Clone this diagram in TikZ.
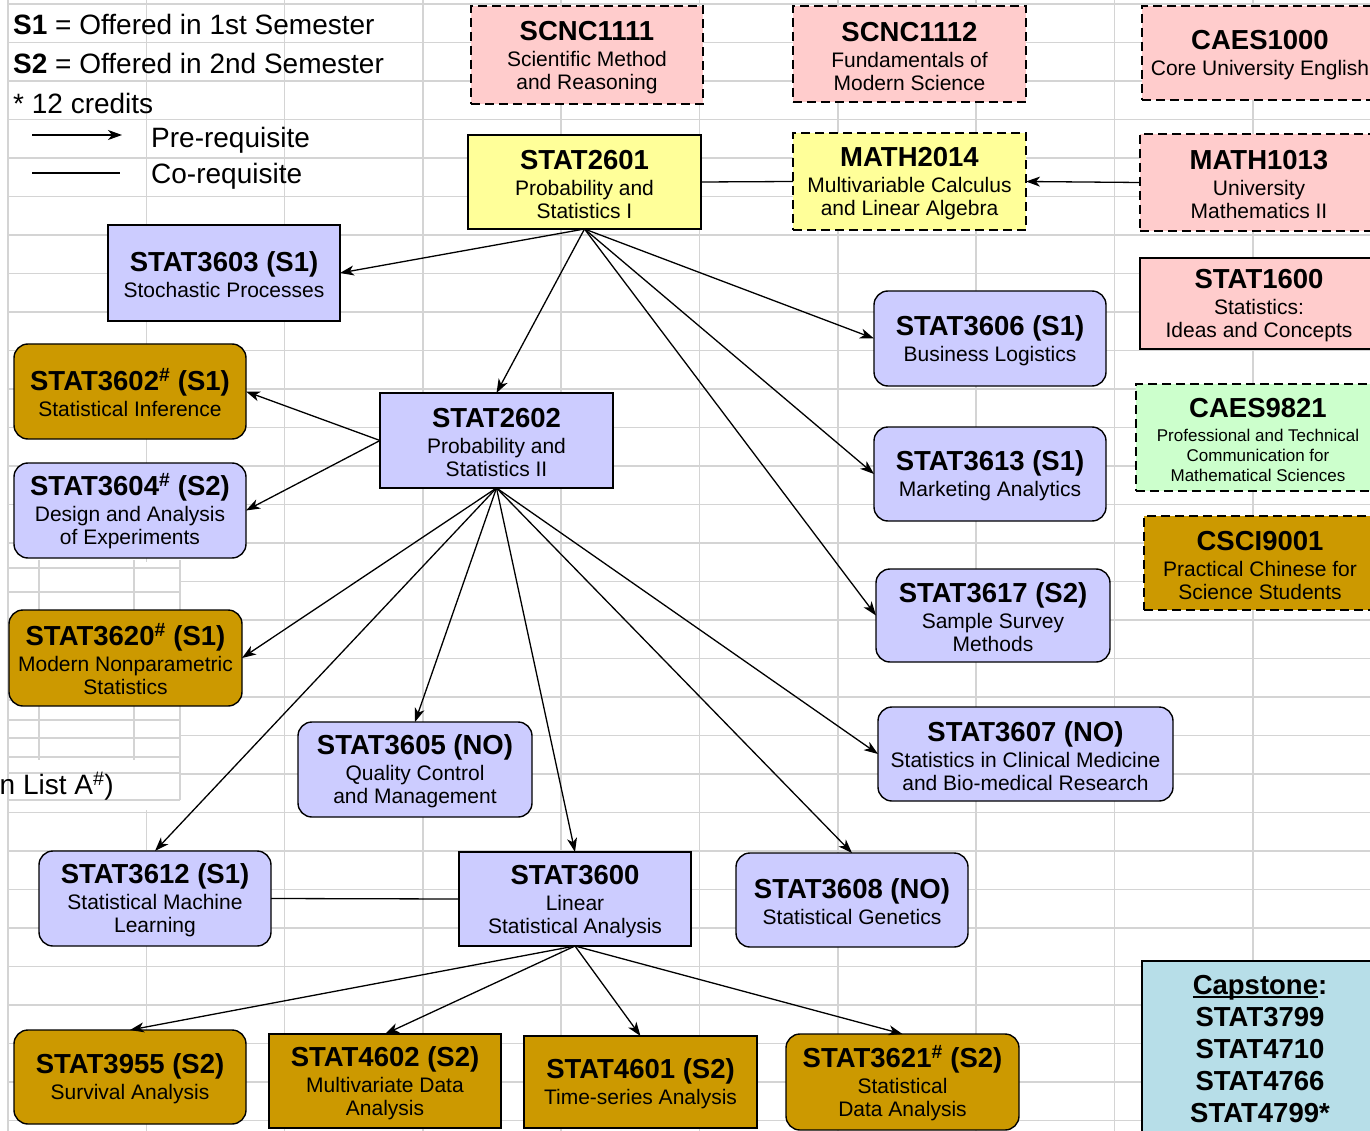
\documentclass[tikz,border=0pt]{standalone}
\usepackage{fontspec}
\setmainfont{Liberation Sans}
\usetikzlibrary{arrows.meta}
\definecolor{pinkc}{HTML}{FFCCCC}
\definecolor{yellowc}{HTML}{FFFF99}
\definecolor{lavc}{HTML}{CCCCFF}
\definecolor{goldc}{HTML}{CC9900}
\definecolor{greenc}{HTML}{CCFFCC}
\definecolor{bluec}{HTML}{B7DEE8}
\definecolor{gridc}{HTML}{D4D4D4}
\newcommand{\ttlf}{\fontsize{27.5}{30}\selectfont\bfseries\rule{0pt}{24pt}}
\newcommand{\myul}[1]{\setbox0\hbox{#1}\rlap{\rule[-3.5pt]{\wd0}{1.6pt}}\box0}
\newcommand{\course}[7]{\node[#1, minimum width={(#5-#3)*1pt}, minimum height={(#6-#4)*1pt}] (#2) at ({(#3+#5)/2},{(#4+#6)/2}) {#7};}
\tikzset{
  course/.style={draw=black, line width=1.4pt, inner sep=0pt, outer sep=0pt, align=center, font=\fontsize{21}{23}\selectfont},
  sq/.style={course},
  rnd/.style={course, rounded corners=14pt},
  dsh/.style={course, dash pattern=on 9pt off 5pt},
  pre/.style={-{Stealth[length=14pt,width=10pt,inset=4pt]}, line width=1.3pt},
  co/.style={line width=1.3pt},
  legtext/.style={font=\fontsize{28}{30}\selectfont, inner sep=0pt, anchor=west},
  gridline/.style={draw=gridc, line width=1.6pt}
}
\begin{document}
\begin{tikzpicture}[x=1pt,y=-1pt]
\clip (0,0) rectangle (1370,1131);
\fill[white] (0,0) rectangle (1370,1131);
% spreadsheet grid
\foreach \gx in {8,146.3,284.6,422.9,561.2,699.5,837.8,976.1,1114.4,1252.7}
  \draw[gridline] (\gx,0) -- (\gx,1131);
\foreach \gy in {4,42.5,81,119.5,158,196.5,235,273.5,312,350.5,389,427.5,466,504.5,543,581.5,620,658.5,697,735.5,774,812.5,851,889.5,928,966.5,1005,1043.5,1082,1120.5}
  \draw[gridline] (8,\gy) -- (1370,\gy);
% small table on the left
\fill[white] (9,562) rectangle (179,810);
\draw[gridline] (180,560) -- (180,800);
\draw[gridline] (39,560) -- (39,760);
\draw[gridline] (134,560) -- (134,760);
\foreach \gy in {568,592,630,665,700,720,738,757,773,800}
  \draw[gridline] (8,\gy) -- (180,\gy);
\draw[gridline] (8,560) -- (8,1131);

% legend
\node[legtext] (leg1) at (13,24) {\textbf{S1} = Offered in 1st Semester};
\node[legtext] (leg2) at (13,63) {\textbf{S2} = Offered in 2nd Semester};
\node[legtext] (leg3) at (13,103) {* 12 credits};
\coordinate (pa) at (32,135);
\coordinate (pb) at (122,135);
\draw[pre] (pa) -- (pb);
\node[legtext] (legpre) at (151,140) {Pre-requisite};
\coordinate (ca) at (32,173);
\coordinate (cb) at (120,173);
\draw[co] (ca) -- (cb);
\node[legtext] (legco) at (151,176) {Co-requisite};
\node[legtext, anchor=east] (lista) at (114,786) {n List A\textsuperscript{\#})};

% right column
\course{dsh, fill=pinkc}{scnc1111}{471}{6}{703}{104}{{\ttlf SCNC1111}\\[3pt]Scientific Method\\and Reasoning}
\course{dsh, fill=pinkc}{scnc1112}{793}{6}{1026}{102}{{\ttlf SCNC1112}\\[3pt]Fundamentals of\\Modern Science}
\course{dsh, fill=pinkc}{caes1000}{1142}{6}{1378}{100}{{\ttlf CAES1000}\\[3pt]Core University English}
\course{sq, fill=yellowc}{stat2601}{468}{135}{701}{229}{{\ttlf STAT2601}\\[3pt]Probability and\\Statistics I}
\course{dsh, fill=yellowc}{math2014}{793}{133}{1026}{230}{{\ttlf MATH2014}\\[3pt]Multivariable Calculus\\and Linear Algebra}
\course{dsh, fill=pinkc}{math1013}{1140}{134}{1378}{231}{{\ttlf MATH1013}\\[3pt]University\\Mathematics II}
\course{sq, fill=pinkc}{stat1600}{1140}{258}{1378}{349}{{\ttlf STAT1600}\\[3pt]Statistics:\\Ideas and Concepts}
\course{dsh, fill=greenc, font=\fontsize{17}{20}\selectfont}{caes9821}{1136}{384}{1380}{491}{{\ttlf CAES9821}\\[4pt]Professional and Technical\\Communication for\\Mathematical Sciences}
\course{dsh, fill=goldc}{csci9001}{1144}{516}{1376}{610}{{\ttlf CSCI9001}\\[3pt]Practical Chinese for\\Science Students}

% main courses
\course{sq, fill=lavc}{stat3603}{108}{225}{340}{321}{{\ttlf STAT3603 (S1)}\\[3pt]Stochastic Processes}
\course{rnd, fill=lavc}{stat3606}{874}{291}{1106}{386}{{\ttlf STAT3606 (S1)}\\[3pt]Business Logistics}
\course{rnd, fill=goldc}{stat3602}{14}{344}{246}{439}{{\ttlf STAT3602\textsuperscript{\#} (S1)}\\[3pt]Statistical Inference}
\course{sq, fill=lavc}{stat2602}{380}{393}{613}{488}{{\ttlf STAT2602}\\[3pt]Probability and\\Statistics II}
\course{rnd, fill=lavc}{stat3613}{874}{427}{1106}{521}{{\ttlf STAT3613 (S1)}\\[3pt]Marketing Analytics}
\course{rnd, fill=lavc}{stat3604}{14}{463}{246}{558}{{\ttlf STAT3604\textsuperscript{\#} (S2)}\\[3pt]Design and Analysis\\of Experiments}
\course{rnd, fill=lavc}{stat3617}{876}{569}{1110}{662}{{\ttlf STAT3617 (S2)}\\[3pt]Sample Survey\\Methods}
\course{rnd, fill=goldc}{stat3620}{9}{610}{242}{706}{{\ttlf STAT3620\textsuperscript{\#} (S1)}\\[3pt]Modern Nonparametric\\Statistics}
\course{rnd, fill=lavc}{stat3607}{878}{707}{1173}{801}{{\ttlf STAT3607 (NO)}\\[3pt]Statistics in Clinical Medicine\\and Bio-medical Research}
\course{rnd, fill=lavc}{stat3605}{298}{722}{532}{817}{{\ttlf STAT3605 (NO)}\\[3pt]Quality Control\\and Management}
\course{rnd, fill=lavc}{stat3612}{39}{851}{271}{946}{{\ttlf STAT3612 (S1)}\\[3pt]Statistical Machine\\Learning}
\course{sq, fill=lavc}{stat3600}{459}{852}{691}{946}{{\ttlf STAT3600}\\[3pt]Linear\\Statistical Analysis}
\course{rnd, fill=lavc}{stat3608}{736}{853}{968}{947}{{\ttlf STAT3608 (NO)}\\[3pt]Statistical Genetics}
\course{rnd, fill=goldc}{stat3955}{14}{1030}{246}{1124}{{\ttlf STAT3955 (S2)}\\[3pt]Survival Analysis}
\course{sq, fill=goldc}{stat4602}{269}{1034}{501}{1128}{{\ttlf STAT4602 (S2)}\\[3pt]Multivariate Data\\Analysis}
\course{sq, fill=goldc}{stat4601}{524}{1036}{757}{1128}{{\ttlf STAT4601 (S2)}\\[3pt]Time-series Analysis}
\course{rnd, fill=goldc}{stat3621}{786}{1034}{1019}{1130}{{\ttlf STAT3621\textsuperscript{\#} (S2)}\\[3pt]Statistical\\Data Analysis}
\course{sq, fill=bluec, font=\fontsize{27.5}{32}\selectfont\bfseries}{capstone}{1142}{961}{1378}{1137}{\myul{Capstone}:\\STAT3799\\STAT4710\\STAT4766\\STAT4799*}

% connectors
\draw[co] (stat2601.east) -- (math2014.west);
\draw[pre] (math1013.west) -- (math2014.east);
\draw[pre] (stat2601.south) -- (stat3603.east);
\draw[pre] (stat2601.south) -- (stat2602.north);
\draw[pre] (stat2601.south) -- (stat3606.west);
\draw[pre] (stat2601.south) -- (stat3613.west);
\draw[pre] (stat2601.south) -- (stat3617.west);
\draw[pre] (stat2602.west) -- (stat3602.east);
\draw[pre] (stat2602.west) -- (stat3604.east);
\draw[pre] (stat2602.south) -- (stat3620.east);
\draw[pre] (stat2602.south) -- (stat3605.north);
\draw[pre] (stat2602.south) -- (stat3612.north);
\draw[pre] (stat2602.south) -- (stat3600.north);
\draw[pre] (stat2602.south) -- (stat3608.north);
\draw[pre] (stat2602.south) -- (stat3607.west);
\draw[co] (stat3612.east) -- (stat3600.west);
\draw[pre] (stat3600.south) -- (stat3955.north);
\draw[pre] (stat3600.south) -- (stat4602.north);
\draw[pre] (stat3600.south) -- (stat4601.north);
\draw[pre] (stat3600.south) -- (stat3621.north);
\end{tikzpicture}
\end{document}
